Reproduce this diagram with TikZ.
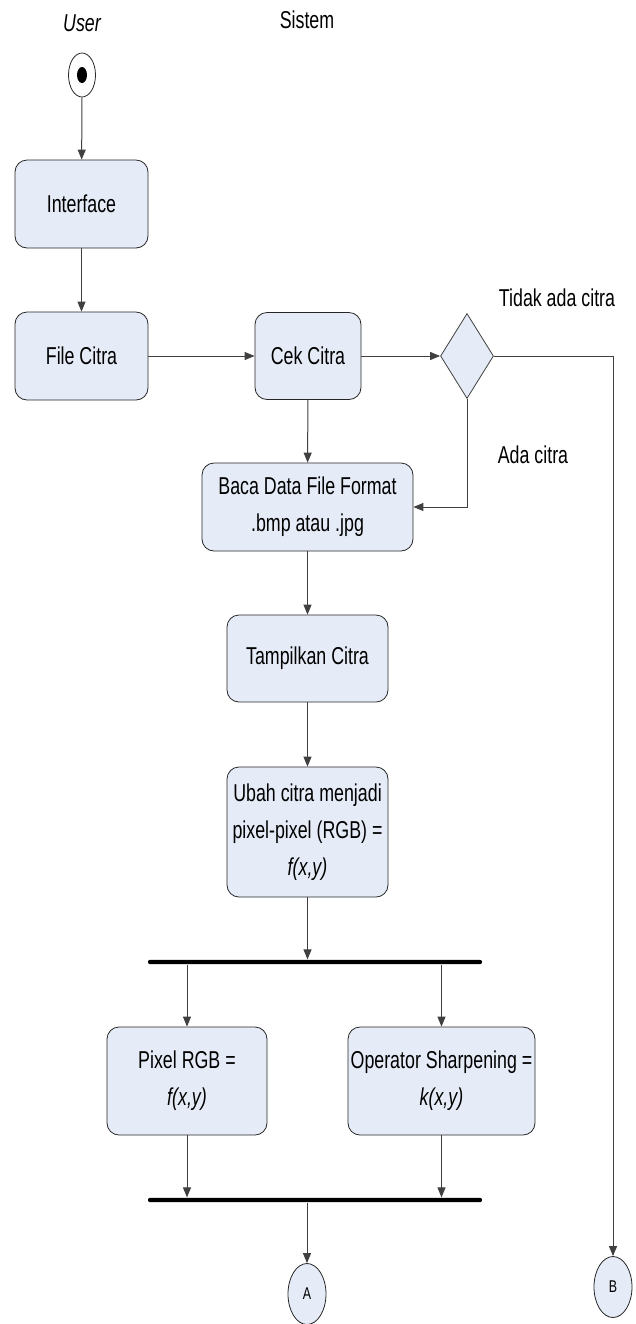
\documentclass[tikz,border=0pt]{standalone}
\usepackage{fontspec}
\setmainfont{Liberation Sans}[FakeStretch=0.73]
\usetikzlibrary{shapes.geometric,arrows.meta,positioning}
\definecolor{boxblue}{HTML}{E6ECF7}

\begin{document}
\begin{tikzpicture}[x=0.5pt,y=-0.5pt]

\tikzset{box/.style = {draw=black!85, fill=boxblue, rounded corners=6pt, align=center, inner sep=1pt, font=\fontsize{12.2}{18.5}\selectfont}}
\tikzset{edge/.style = {-{Triangle[length=5pt,width=4pt]}, draw=black!75, line width=0.5pt}}
\tikzset{bar/.style = {fill=black, rounded corners=1pt, minimum width=167pt, minimum height=2.2pt, inner sep=0pt}}
\tikzset{conn/.style = {ellipse, draw=black!85, fill=boxblue, minimum width=19pt, minimum height=30.5pt, inner sep=0pt, font=\fontsize{8.5}{10}\selectfont}}
\tikzset{note/.style = {font=\fontsize{12.2}{15}\selectfont}}

\useasboundingbox (0,0) rectangle (636,1324);

% lanes
\node[note] (user) at (82,23) {\itshape User};
\node[note] (sistem) at (307,20) {Sistem};

% vertices
\node[ellipse, draw=black!85, minimum width=13.5pt, minimum height=22pt, inner sep=0pt] (start) at (82,75) {};
\node[ellipse, fill=black, minimum width=5pt, minimum height=8pt, inner sep=0pt] (startdot) at (start) {};
\node[box, minimum width=66.5pt, minimum height=44pt] (iface) at (81.5,204) {Interface};
\node[box, minimum width=66.5pt, minimum height=44pt] (file) at (81.5,356) {File Citra};
\node[box, minimum width=53pt, minimum height=43.5pt] (cek) at (308,356) {Cek Citra};
\node[diamond, draw=black!75, fill=boxblue, minimum width=26.5pt, minimum height=42.5pt, inner sep=0pt] (dec) at (467,356) {};
\node[box, minimum width=105.5pt, minimum height=44pt] (baca) at (307.5,507) {Baca Data File Format\\.bmp atau .jpg};
\node[box, minimum width=80.5pt, minimum height=43.5pt] (tampil) at (307.5,658.5) {Tampilkan Citra};
\node[box, minimum width=80.5pt, minimum height=65pt] (ubah) at (307.5,832) {Ubah citra menjadi\\pixel-pixel (RGB) =\\\textit{f(x,y)}};
\node[bar] (fork1) at (315,962) {};
\node[box, minimum width=80pt, minimum height=54pt] (pixel) at (187,1081) {Pixel RGB =\\\textit{f(x,y)}};
\node[box, minimum width=93.5pt, minimum height=54pt] (oper) at (441.5,1081) {Operator Sharpening =\\\textit{k(x,y)}};
\node[bar] (fork2) at (315,1200) {};
\node[conn] (A) at (307,1294) {A};
\node[conn] (B) at (613,1287) {B};

\node[note] (tidak) at (557,298) {Tidak ada citra};
\node[note] (ada) at (533,455) {Ada citra};

%edges
\draw[edge] (start) -- (iface);
\draw[edge] (iface) -- (file);
\draw[edge] (file) -- (cek);
\draw[edge] (cek) -- (dec);
\draw[edge] (cek) -- (baca);
\draw[edge] (dec.south) |- (baca.east);
\draw[edge] (dec.east) -| (B.north);
\draw[edge] (baca) -- (tampil);
\draw[edge] (tampil) -- (ubah);
\draw[edge] (ubah) -- (ubah |- fork1.north);
\draw[edge] (fork1.south -| pixel) -- (pixel);
\draw[edge] (fork1.south -| oper) -- (oper);
\draw[edge] (pixel) -- (pixel |- fork2.north);
\draw[edge] (oper) -- (oper |- fork2.north);
\draw[edge] (fork2.south -| A) -- (A);

\end{tikzpicture}
\end{document}
